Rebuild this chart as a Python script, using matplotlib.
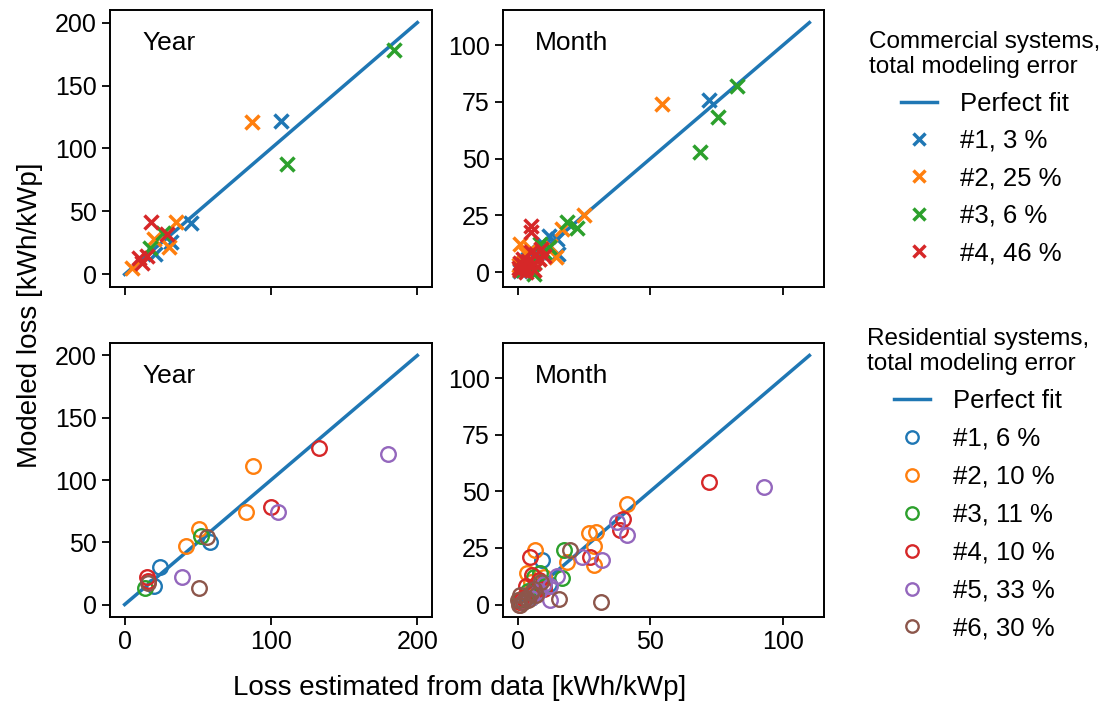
import numpy as np
import matplotlib
matplotlib.use("Agg")
import matplotlib.pyplot as plt

plt.rcParams["font.family"] = ["Liberation Sans", "DejaVu Sans"]

# --- commercial systems, yearly totals (x = estimated from data, y = modeled)
com_labels = ["#1, 3 %", "#2, 25 %", "#3, 6 %", "#4, 46 %"]
com_year_x = [
    [107, 45, 32, 21],
    [87, 35, 20, 30, 5],
    [184, 111, 26, 17],
    [18, 29, 10, 12, 15],
]
com_year_y = [
    [122, 41, 26, 16],
    [121, 42, 28, 22, 5],
    [178, 88, 33, 21],
    [42, 32, 13, 9, 15],
]
# --- commercial systems, monthly
com_month_x = [
    [72, 15, 15.4, 11.8, 10, 8, 5, 3, 2, 1, 6, 4],
    [54.6, 25, 16.8, 14.3, 12.4, 1, 3, 2, 5, 8, 1, 0.5],
    [82.6, 75.7, 68.8, 22.4, 18.7, 8.6, 6, 10, 4, 2, 12],
    [4.9, 5, 1, 2, 3, 4, 6, 7, 8, 2, 5, 9, 10, 3, 1, 0.5, 6],
]
com_month_y = [
    [76, 14.5, 8, 16, 12, 9, 4, 2, 1, 0.5, 7, 6],
    [74, 25, 19, 6.6, 11.5, 12.5, 8, 4, 10, 6, 1, 3],
    [82, 68.6, 52.8, 19.6, 22, 12.3, -1, 9, 3, 1, 11],
    [20.3, 17.5, 1, 3, 2, 5, 4, 8, 6, 6, 9, 10, 7, 0, 4, 2, 1],
]

# --- residential systems, yearly
res_labels = ["#1, 6 %", "#2, 10 %", "#3, 11 %", "#4, 10 %", "#5, 33 %", "#6, 30 %"]
res_year_x = [
    [58, 24, 20],
    [88, 83, 51, 42],
    [52, 14],
    [133, 100, 15, 16],
    [180, 105, 39],
    [56, 51, 16],
]
res_year_y = [
    [50, 30, 15],
    [111, 74, 61, 47],
    [55, 13],
    [126, 78, 22, 19],
    [121, 74, 22],
    [54, 13, 17],
]
# --- residential systems, monthly
res_month_x = [
    [9.3, 3, 1, 5, 8, 2, 12, 6],
    [41.2, 26.8, 29.6, 28.7, 28.7, 6.4, 18.7, 3.6, 5, 2, 10, 1],
    [17.4, 16.8, 8.6, 6, 4, 2, 10, 1, 5],
    [72.3, 39.7, 38.7, 27.2, 4.6, 5.5, 3, 8, 2, 1, 6, 10],
    [93, 37.5, 41.2, 31.8, 24.3, 14.9, 12.4, 12.4, 10, 8, 5, 2],
    [31.5, 19.9, 15.5, 1, 0, 2, 3, 5, 7, 0.5, 4, 1, 9, 6],
]
res_month_y = [
    [19.5, 3, 1, 6, 10, 2, 9, 4],
    [44.4, 31.6, 31.9, 25.7, 17.6, 24.3, 18.7, 14, 10, 3, 12, 1],
    [24.3, 11.8, 14, 12, 6, 1, 8, 2, 3],
    [54, 37.8, 32.8, 21, 21, 13.2, 8, 11, 3, 1, 5, 7],
    [52, 36.3, 30.9, 19.5, 21, 12.5, 8.1, 2.2, 9, 6, 3, 1],
    [1, 24, 2.5, 4, 2, 1, 3, 5, 4, 0, 2, 0, 10, 7],
]
year_max = 200
month_max = 110

colors = plt.rcParams["axes.prop_cycle"].by_key()["color"]

W, H = 1105, 702
fig = plt.figure(figsize=(W / 100, H / 100), dpi=100)


def px_axes(x0, y0, x1, y1):
    return fig.add_axes([x0 / W, 1 - y1 / H, (x1 - x0) / W, (y1 - y0) / H])


axTL = px_axes(110, 10, 432, 287)
axTR = px_axes(503, 10, 824, 287)
axBL = px_axes(110, 343, 432, 617)
axBR = px_axes(503, 343, 824, 617)

FS = 18


def panel(ax, xs, ys, labels, vmax, marker, title, bottom):
    line, = ax.plot([0, vmax], [0, vmax], color="C0", lw=2.5, label="Perfect fit", zorder=1)
    handles = [line]
    for i, (x, y) in enumerate(zip(xs, ys)):
        if marker == "x":
            h, = ax.plot(x, y, "x", ms=10.5, mew=2.5, color=colors[i], ls="none", label=labels[i])
        else:
            h, = ax.plot(x, y, "o", ms=10.5, mew=1.7, mfc="none", mec=colors[i], ls="none", label=labels[i])
        handles.append(h)
    ax.margins(0.05)
    ax.text(0.1, 0.88, title, transform=ax.transAxes, fontsize=19, va="center")
    ax.tick_params(labelsize=FS, length=6, width=1.3)
    if not bottom:
        ax.tick_params(labelbottom=False)
    for s in ax.spines.values():
        s.set_linewidth(1.4)
    return handles


hc = panel(axTL, com_year_x, com_year_y, com_labels, year_max, "x", "Year", False)
panel(axTR, com_month_x, com_month_y, com_labels, month_max, "x", "Month", False)
hr = panel(axBL, res_year_x, res_year_y, res_labels, year_max, "o", "Year", True)
panel(axBR, res_month_x, res_month_y, res_labels, month_max, "o", "Month", True)

for ax in (axTL, axBL):
    ax.set_xticks([0, 100, 200])
    ax.set_yticks([0, 50, 100, 150, 200])
for ax in (axTR, axBR):
    ax.set_xticks([0, 50, 100])
    ax.set_yticks([0, 25, 50, 75, 100])

fig.text(30 / W, 1 - 315 / H, "Modeled loss [kWh/kWp]", rotation=90, fontsize=20,
         ha="center", va="center")
fig.text(460 / W, 1 - 688 / H, "Loss estimated from data [kWh/kWp]", fontsize=20,
         ha="center", va="center")

leg1 = fig.legend(handles=hc, loc="upper center", bbox_to_anchor=(985 / W, 1 - 18 / H),
                  title="Commercial systems,\ntotal modeling error", frameon=False,
                  fontsize=18.5, title_fontsize=17.5, labelspacing=0.52, handlelength=1.4,
                  handletextpad=0.9, markerscale=0.85, borderpad=0)
leg2 = fig.legend(handles=hr, loc="upper center", bbox_to_anchor=(978 / W, 1 - 315 / H),
                  title="Residential systems,\ntotal modeling error", frameon=False,
                  fontsize=18.5, title_fontsize=17.5, labelspacing=0.54, handlelength=1.4,
                  handletextpad=0.9, markerscale=0.85, borderpad=0)

fig.savefig("out.png", dpi=100)
